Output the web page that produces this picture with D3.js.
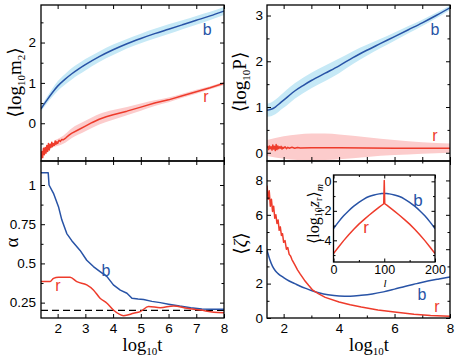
<!DOCTYPE html>
<html><head><meta charset="utf-8">
<script src="https://cdn.jsdelivr.net/npm/d3@7"></script>
<style>body{margin:0;background:#fff}svg{display:block}</style>
</head><body><svg id="c" width="458" height="358"></svg>
<script>
// ---------- DATA ----------
// Panel (a): <log10 m2>
const tM2b = [1.4,1.6,1.8,2.0,2.25,2.5,2.75,3.0,3.5,4.0,4.5,5.0,5.5,6.0,6.5,7.0,7.5,8.0];
const m2b  = [0.36,0.56,0.75,0.92,1.08,1.22,1.34,1.45,1.65,1.82,1.97,2.1,2.22,2.33,2.44,2.55,2.66,2.78];
const m2bLo= [0.30,0.48,0.65,0.80,0.95,1.08,1.20,1.31,1.52,1.69,1.85,1.98,2.10,2.21,2.33,2.44,2.56,2.68];
const m2bHi= [0.42,0.64,0.85,1.04,1.21,1.36,1.48,1.59,1.78,1.95,2.09,2.22,2.34,2.45,2.55,2.66,2.76,2.88];
const tM2r = [1.40,1.43,1.46,1.49,1.52,1.55,1.58,1.61,1.64,1.67,1.70,1.73,1.76,1.79,1.82,1.85,1.88,1.91,1.94,1.97,2.00,2.05,2.10,2.15,2.20,2.3,2.4,2.5,2.75,3.0,3.25,3.5,3.75,4.0,4.5,5.0,5.5,6.0,6.5,7.0,7.5,8.0];
const m2r  = [-0.9,-0.7,-0.85,-0.62,-0.78,-0.6,-0.74,-0.55,-0.7,-0.5,-0.66,-0.52,-0.6,-0.47,-0.58,-0.5,-0.55,-0.44,-0.52,-0.46,-0.5,-0.42,-0.45,-0.4,-0.41,-0.36,-0.3,-0.25,-0.16,-0.07,0.02,0.1,0.16,0.21,0.3,0.40,0.50,0.58,0.68,0.78,0.88,0.99];
const tM2rBand = [1.9,2.2,2.5,3.0,3.5,4.0,4.5,5.0,5.5,6.0,6.5,7.0,7.5,8.0];
const m2rLo = [-0.58,-0.51,-0.37,-0.2,-0.03,0.09,0.2,0.31,0.43,0.52,0.63,0.73,0.84,0.95];
const m2rHi = [-0.42,-0.31,-0.13,0.06,0.23,0.33,0.4,0.49,0.57,0.64,0.73,0.83,0.92,1.03];

// Panel (b): <log10 P>
const tPb = [1.4,1.55,1.7,1.9,2.1,2.4,2.7,3.0,3.5,4.0,4.5,5.0,5.5,6.0,6.5,7.0,7.5,8.0];
const Pb  = [0.93,0.95,1.0,1.1,1.2,1.35,1.47,1.58,1.74,1.9,2.08,2.24,2.39,2.54,2.69,2.84,3.0,3.17];
const PbLo= [0.79,0.80,0.84,0.94,1.03,1.18,1.30,1.41,1.57,1.74,1.94,2.12,2.29,2.45,2.61,2.77,2.94,3.12];
const PbHi= [1.07,1.10,1.16,1.26,1.37,1.52,1.64,1.75,1.91,2.06,2.22,2.36,2.49,2.63,2.77,2.91,3.06,3.22];
const tPr = [1.40,1.43,1.46,1.49,1.52,1.55,1.58,1.61,1.64,1.67,1.70,1.73,1.76,1.79,1.82,1.85,1.88,1.91,1.94,1.97,2.00,2.05,2.10,2.15,2.20,2.3,2.4,2.5,2.6,3.0,4.0,5.0,6.0,7.0,8.0];
const Pr  = [0.10,0.14,0.07,0.15,0.09,0.13,0.06,0.17,0.08,0.14,0.05,0.18,0.07,0.15,0.09,0.13,0.10,0.14,0.08,0.12,0.10,0.13,0.09,0.12,0.10,0.12,0.10,0.115,0.105,0.11,0.11,0.105,0.1,0.1,0.1];
const tPrBand = [1.4,2.0,2.5,3.0,3.5,4.0,5.0,6.0,7.0,8.0];
const PrLo = [-0.07,-0.13,-0.16,-0.17,-0.16,-0.14,-0.09,-0.05,-0.02,0.0];
const PrHi = [0.28,0.36,0.40,0.42,0.42,0.40,0.34,0.28,0.23,0.2];

// Panel (c): alpha
const tAb = [1.4,1.66,1.69,1.85,2.03,2.15,2.33,2.51,2.81,3.05,3.29,3.53,3.78,4.01,4.26,4.5,4.68,4.9,5.1,5.4,5.7,6.0,6.4,6.8,7.2,7.6,8.0];
const Ab  = [1.078,1.078,1.0,0.947,0.862,0.778,0.69,0.645,0.583,0.52,0.48,0.448,0.416,0.363,0.33,0.31,0.278,0.273,0.27,0.258,0.25,0.24,0.228,0.218,0.21,0.208,0.207];
const tAr = [1.4,1.73,1.85,2.03,2.45,2.69,3.05,3.29,3.53,3.78,4.01,4.38,4.74,4.98,5.28,5.7,6.18,6.67,7.15,7.63,8.0];
const Ar  = [0.384,0.384,0.405,0.412,0.412,0.384,0.363,0.331,0.278,0.246,0.203,0.167,0.182,0.193,0.225,0.218,0.229,0.214,0.203,0.189,0.186];
const alphaRef = [0.2];

// Panel (d): <zeta>
const tZb = [1.4,1.5,1.6,1.7,1.8,2.0,2.2,2.4,2.6,2.8,3.0,3.3,3.6,4.0,4.4,4.8,5.2,5.6,6.0,6.4,6.8,7.2,7.6,8.0];
const Zb  = [3.94,3.4,3.0,2.75,2.58,2.35,2.15,2.0,1.85,1.72,1.6,1.45,1.35,1.28,1.27,1.32,1.4,1.52,1.68,1.85,2.0,2.15,2.27,2.38];
const tZr = [1.40,1.44,1.48,1.52,1.56,1.60,1.64,1.68,1.72,1.76,1.80,1.84,1.88,1.92,1.96,2.00,2.05,2.10,2.15,2.20,2.25,2.30,2.40,2.50,2.60,2.75,2.90,3.05,3.25,3.5,4.0,4.4,4.8,5.4,6.0,6.7,7.3,8.0];
const Zr  = [7.7,6.9,7.4,6.5,6.9,6.2,6.5,5.8,6.0,5.5,5.7,5.1,5.3,4.8,4.9,4.4,4.5,4.0,4.1,3.7,3.6,3.4,3.1,2.8,2.55,2.2,1.9,1.62,1.42,1.2,0.93,0.77,0.64,0.47,0.35,0.22,0.15,0.1];

// Inset: <log10 z_r>_m vs l
const lIn = [0,10,20,30,40,50,60,70,80,90,95,99,100,101,105,110,120,130,140,150,160,170,180,190,200];
const zInB = [-3.2,-2.75,-2.34,-1.99,-1.68,-1.42,-1.2,-1.03,-0.92,-0.85,-0.83,-0.82,-0.82,-0.82,-0.83,-0.85,-0.92,-1.03,-1.2,-1.42,-1.68,-1.99,-2.34,-2.75,-3.2];
const zInR = [-4.9,-4.45,-4.02,-3.62,-3.25,-2.9,-2.6,-2.3,-2.02,-1.75,-1.62,-1.52,0.05,-1.52,-1.62,-1.75,-2.02,-2.3,-2.6,-2.9,-3.25,-3.62,-4.02,-4.45,-4.9];

// ---------- STYLE ----------
const BLUE="#2853a6", CYAN="#c6e9f6", RED="#ee3b2b", PINK="#fccccc";
const SANS="Liberation Sans, Arial, Helvetica, sans-serif";
const SERIF="Liberation Serif, Times New Roman, DejaVu Serif, serif";
const svg = d3.select("#c");
const zip = (a,b) => a.map((v,i)=>[v,b[i]]);
const zip3 = (a,b,c) => a.map((v,i)=>[v,b[i],c[i]]);

function panel(cfg){
  const x = d3.scaleLinear().domain(cfg.xd).range([cfg.l,cfg.r]);
  const y = d3.scaleLinear().domain(cfg.yd).range([cfg.b,cfg.t]);
  if (cfg.fill) svg.append("rect").attr("x",cfg.l).attr("y",cfg.t).attr("width",cfg.r-cfg.l).attr("height",cfg.b-cfg.t).attr("fill",cfg.fill);
  svg.append("clipPath").attr("id",cfg.id).append("rect")
    .attr("x",cfg.l).attr("y",cfg.t).attr("width",cfg.r-cfg.l).attr("height",cfg.b-cfg.t);
  const plot = svg.append("g").attr("clip-path",`url(#${cfg.id})`);
  return {x,y,plot,cfg};
}
function band(p, t, lo, hi, color){
  p.plot.append("path").datum(zip3(t,lo,hi))
    .attr("d", d3.area().x(d=>p.x(d[0])).y0(d=>p.y(d[1])).y1(d=>p.y(d[2])).curve(d3.curveMonotoneX))
    .attr("fill",color).attr("stroke","none");
}
function line(p, t, v, color, w, curve){
  p.plot.append("path").datum(zip(t,v))
    .attr("d", d3.line().x(d=>p.x(d[0])).y(d=>p.y(d[1])).curve(curve||d3.curveLinear))
    .attr("fill","none").attr("stroke",color).attr("stroke-width",w||1.5).attr("stroke-linejoin","round");
}
function axes(p, o){
  const c = p.cfg, g = svg.append("g");
  const mk = (fn, scale, vals, size, fmt, tr, pad, fs) => {
    const a = fn(scale).tickValues(vals).tickSizeInner(size).tickSizeOuter(0).tickPadding(pad).tickFormat(fmt);
    const s = g.append("g").attr("transform",tr).call(a);
    s.select(".domain").remove();
    s.attr("font-family",SANS).attr("font-size",fs);
    s.selectAll("line").attr("stroke","#000").attr("stroke-width",1);
    s.selectAll("text").attr("fill","#000");
  };
  const none = () => "";
  const ML = o.ml||4, mn = o.mn||2.5, fs = o.fs||13.5;
  mk(d3.axisLeft, p.y, o.yMaj, -ML, o.yLab ? o.yFmt : none, `translate(${c.l},0)`, o.ypad||5, fs);
  mk(d3.axisLeft, p.y, o.yMin, -mn, none, `translate(${c.l},0)`, 5, fs);
  mk(d3.axisRight, p.y, o.yMaj, -ML, none, `translate(${c.r},0)`, 5, fs);
  mk(d3.axisRight, p.y, o.yMin, -mn, none, `translate(${c.r},0)`, 5, fs);
  mk(d3.axisBottom, p.x, o.xMaj, -ML, o.xLab ? o.xFmt : none, `translate(0,${c.b})`, o.xpad||5, fs);
  mk(d3.axisBottom, p.x, o.xMin||[], -mn, none, `translate(0,${c.b})`, 5, fs);
  mk(d3.axisTop, p.x, o.xMaj, -ML, none, `translate(0,${c.t})`, 5, fs);
  mk(d3.axisTop, p.x, o.xMin||[], -mn, none, `translate(0,${c.t})`, 5, fs);
  svg.append("rect").attr("x",c.l).attr("y",c.t).attr("width",c.r-c.l).attr("height",c.b-c.t)
    .attr("fill","none").attr("stroke","#000").attr("stroke-width",1.3);
}
function tag(p, tx, ty, s, color, fs){
  svg.append("text").attr("x",p.x(tx)).attr("y",p.y(ty)).attr("text-anchor","middle")
    .attr("font-family",SANS).attr("font-size",fs||16).attr("fill",color).text(s);
}
function rich(x, y, rot, parts, anchor){
  const t = svg.append("text").attr("transform",`translate(${x},${y}) rotate(${rot})`)
    .attr("text-anchor",anchor||"middle").attr("font-family",SERIF).attr("fill","#000");
  let prev = 0;
  parts.forEach(([s,size,shift,it])=>{
    t.append("tspan").attr("font-size",size).attr("dy",shift-prev)
      .attr("font-style",it?"italic":"normal").text(s);
    prev = shift;
  });
}

const XD = [1.4, 8];
const fmtInt = d3.format("d");

// ---------- Panel (a) ----------
const pA = panel({id:"ca", l:41, r:224, t:5, b:161, xd:XD, yd:[-0.935,2.93]});
band(pA, tM2b, m2bLo, m2bHi, CYAN);
band(pA, tM2rBand, m2rLo, m2rHi, PINK);
line(pA, tM2b, m2b, BLUE, 1.5, d3.curveMonotoneX);
line(pA, tM2r, m2r, RED, 1.5);
axes(pA, {yMaj:[0,1,2], yMin:[-0.5,0.5,1.5,2.5], yLab:true, yFmt:fmtInt, xMaj:[2,3,4,5,6,7,8]});
tag(pA, 7.39, 2.19, "b", BLUE);
tag(pA, 7.35, 0.53, "r", RED);

// ---------- Panel (b) ----------
const pB = panel({id:"cb", l:267, r:450, t:5, b:161, xd:XD, yd:[-0.18,3.23]});
band(pB, tPb, PbLo, PbHi, CYAN);
band(pB, tPrBand, PrLo, PrHi, PINK);
line(pB, tPb, Pb, BLUE, 1.5, d3.curveMonotoneX);
line(pB, tPr, Pr, RED, 1.5);
axes(pB, {yMaj:[0,1,2,3], yMin:[0.5,1.5,2.5], yLab:true, yFmt:fmtInt, ypad:4, xMaj:[2,3,4,5,6,7,8]});
tag(pB, 7.46, 2.57, "b", BLUE);
tag(pB, 7.46, 0.26, "r", RED);

// ---------- Panel (c) ----------
const pC = panel({id:"cc", l:41, r:224, t:161, b:318, xd:XD, yd:[0.152,1.153]});
pC.plot.selectAll("line.ref").data(alphaRef).join("line").attr("class","ref")
  .attr("x1",pC.x(XD[0])).attr("x2",pC.x(XD[1])).attr("y1",d=>pC.y(d)).attr("y2",d=>pC.y(d))
  .attr("stroke","#000").attr("stroke-width",1.3).attr("stroke-dasharray","7,4");
line(pC, tAb, Ab, BLUE, 1.5);
line(pC, tAr, Ar, RED, 1.5, d3.curveMonotoneX);
axes(pC, {yMaj:[0.25,0.5,0.75,1], yMin:[0.375,0.625,0.875], yLab:true, yFmt:d=>String(d),
          xMaj:[2,3,4,5,6,7,8], xLab:true, xFmt:fmtInt});
tag(pC, 3.74, 0.42, "b", BLUE);
tag(pC, 2.01, 0.326, "r", RED);

// ---------- Panel (d) ----------
const pD = panel({id:"cd", l:267, r:450, t:161, b:318, xd:XD, yd:[0,9.13]});
line(pD, tZb, Zb, BLUE, 1.5, d3.curveMonotoneX);
line(pD, tZr, Zr, RED, 1.5);
axes(pD, {yMaj:[0,2,4,6,8], yMin:[1,3,5,7], yLab:true, yFmt:fmtInt, ypad:4,
          xMaj:[2,4,6,8], xMin:[3,5,7], xLab:true, xFmt:fmtInt});
tag(pD, 6.99, 1.05, "b", BLUE);
tag(pD, 7.53, 0.37, "r", RED);

// ---------- Inset ----------
const pI = panel({id:"ci", l:333.5, r:435, t:175, b:262, xd:[0,200], yd:[-5.47,0.43], fill:"#fff"});
line(pI, lIn, zInB, BLUE, 1.5, d3.curveMonotoneX);
line(pI, lIn, zInR, RED, 1.5);
axes(pI, {yMaj:[0,-2,-4], yMin:[-1,-3,-5], yLab:true, yFmt:fmtInt, ypad:2, fs:12.5, ml:3.5, mn:2,
          xMaj:[0,100,200], xMin:[50,150], xLab:true, xFmt:fmtInt, xpad:3});
tag(pI, 166.5, -1.67, "b", BLUE, 17);
tag(pI, 64, -3.52, "r", RED, 17);

// ---------- Axis titles ----------
const logt = [["log",18.5,0],["10",11,4],["t",18.5,0]];
rich(142.5, 351, 0, logt);
rich(369, 351, 0, logt);
rich(21, 82.5, -90, [["\u27E8log",19,0],["10",11,4],["m",19,0],["2",11,4],["\u27E9",19,0]]);
rich(17.5, 242.5, -90, [["\u03B1",19,0]]);
rich(246, 82, -90, [["\u27E8log",19,0],["10",11,4],["P",19,0],["\u27E9",19,0]]);
rich(247, 243.5, -90, [["\u27E8",19,0],["\u03B6",19,0,true],["\u27E9",19,0]]);
rich(319, 214, -90, [["\u27E8log",16,0],["10",10,3],["z",16,0,true],["r",10,3],["\u27E9",16,0],["m",10,4,true]]);
rich(385, 286.5, 0, [["l",11,0,true]]);
</script></body></html>
